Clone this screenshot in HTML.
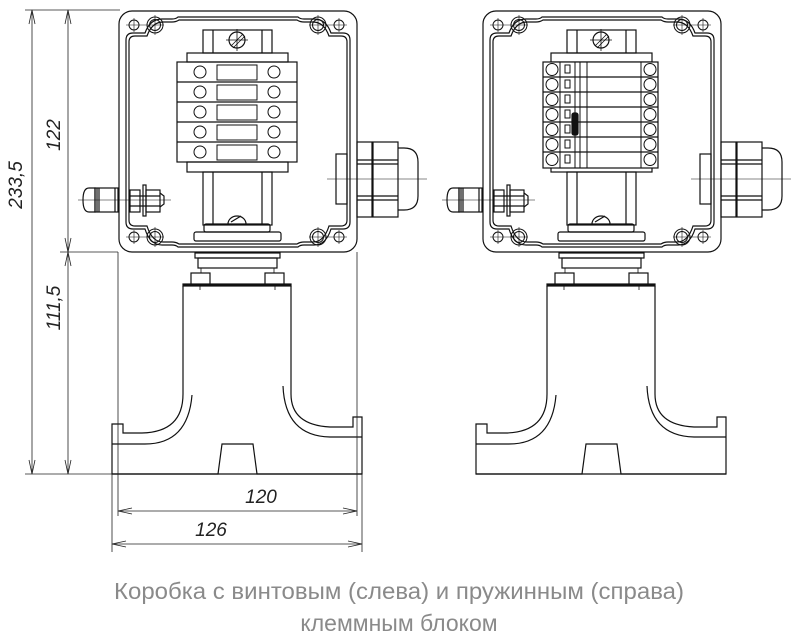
<!DOCTYPE html>
<html><head><meta charset="utf-8"><style>
html,body{margin:0;padding:0;background:#fff;width:795px;height:642px;overflow:hidden}
</style></head><body>
<svg width="795" height="642" viewBox="0 0 795 642" xmlns="http://www.w3.org/2000/svg" font-family="Liberation Sans, sans-serif">
<defs>
<g id="box" fill="none" stroke="#111" stroke-width="1.2">
  <rect x="119" y="11" width="238" height="241" rx="13"/>
  <path d="M126,40 Q126,33 133,33 L145,33 Q150,19 162,19 L172,19 Q176,19 178,17 L298,17 Q300,19 304,19 L314,19 Q326,19 331,33 L343,33 Q350,33 350,40 L350,222 Q350,229 343,229 L331,229 Q326,245 314,245 L304,245 Q300,245 298,247 L178,247 Q176,245 172,245 L162,245 Q150,245 145,229 L133,229 Q126,229 126,222 Z"/>
  <path d="M129,42 Q129,36 135,36 L147,36 Q152,22 163,22 L172,22 Q176,22 179,20 L297,20 Q300,22 304,22 L313,22 Q324,22 329,36 L341,36 Q347,36 347,42 L347,220 Q347,226 341,226 L329,226 Q324,242 313,242 L304,242 Q300,242 297,244 L179,244 Q176,242 172,242 L163,242 Q152,242 147,226 L135,226 Q129,226 129,220 Z"/>
  <g stroke-width="1">
    <circle cx="155" cy="25" r="8"/><circle cx="155" cy="25" r="5.5"/>
    <circle cx="318" cy="25" r="8"/><circle cx="318" cy="25" r="5.5"/>
    <circle cx="155" cy="237" r="8"/><circle cx="155" cy="237" r="5.5"/>
    <circle cx="318" cy="237" r="8"/><circle cx="318" cy="237" r="5.5"/>
    <circle cx="134" cy="25" r="5"/><circle cx="339" cy="25" r="5"/>
    <circle cx="134" cy="237" r="5"/><circle cx="339" cy="237" r="5"/>
    <path d="M126,25h38M155,15v20M309,25h38M318,15v20M339,18v14M134,18v14M126,237h38M155,227v20M309,237h38M318,227v20M339,230v14M134,230v14" stroke-width="0.6"/>
  </g>
  <rect x="203" y="30" width="69" height="23"/>
  <path d="M213,30v23M262,30v23"/>
  <circle cx="237" cy="40" r="8"/><path d="M231,46l12,-12M233,48l12,-12M226,40h22M237,29v22" stroke-width="0.8"/>
  <rect x="187" y="53" width="101" height="9"/>
  <rect x="187" y="162" width="101" height="10"/>
  <rect x="203" y="172" width="69" height="53"/>
  <path d="M213,172v53M262,172v53"/>
  <path d="M228,224a9,8 0 0 1 18,0" /><path d="M231,222l10,-6"/>
  <rect x="204" y="224" width="66" height="8" rx="2"/>
  <rect x="194" y="232" width="87" height="9" rx="2"/>
  <path d="M95,188 L89,188 Q83,188 83,200 Q83,212 89,212 L95,212 Z"/>
  <rect x="95" y="188" width="23" height="24"/><path d="M97,188v24M99,188v24M115,188v24"/>
  <rect x="130" y="190" width="10" height="22"/><rect x="143" y="185" width="3" height="31"/>
  <rect x="146" y="190" width="14" height="22"/><path d="M160,193 l4,3 v8 l-4,3M130,196h30M130,206h30"/>
  <path d="M78,200h93" stroke-width="0.6"/>
  <rect x="336" y="154" width="11" height="50"/>
  <rect x="357" y="142" width="15" height="75"/>
  <rect x="373" y="142" width="25" height="75"/>
  <path d="M398,148 L404,148 Q418,148 418,162 L418,196 Q418,210 404,210 L398,210"/>
  <path d="M357,160h41M357,164h41M357,196h41M357,200h41"/>
  <path d="M327,179h100" stroke-width="0.6"/>
  <rect x="195" y="253" width="85" height="5"/>
  <rect x="198" y="258" width="79" height="10"/>
  <rect x="191" y="273" width="19" height="12"/><rect x="265" y="273" width="19" height="12"/>
  <path d="M201,268v5M274,268v5M200,285v5M275,285v5" stroke-width="0.8"/>
  <rect x="183" y="284" width="108" height="2" fill="#111"/>
  <path d="M183,286 V394 Q183,432 142,433 L123,433 V424 H112 V474 H218 L222,444 H253 L257,474 H362 V417 H353 V427 L330,427 Q291,425 291,394 V286"/>
  <path d="M192,395 Q188,444 145,444 L112,444"/>
  <path d="M283,386 Q285,436 330,437 L362,437"/>
  <path d="M112,474 H362" />
</g>
</defs>
<use href="#box"/>
<use href="#box" transform="translate(364,0)"/>

<g fill="none" stroke="#111" stroke-width="1.2">
  <rect x="177" y="62" width="120" height="100"/>
  <path d="M177,82h120M177,102h120M177,122h120M177,142h120"/>
  <g stroke-width="1">
  <circle cx="200" cy="72" r="6"/><circle cx="274" cy="72" r="6"/><rect x="217" y="65" width="40" height="15"/>
  <circle cx="200" cy="92" r="6"/><circle cx="274" cy="92" r="6"/><rect x="217" y="85" width="40" height="15"/>
  <circle cx="200" cy="112" r="6"/><circle cx="274" cy="112" r="6"/><rect x="217" y="105" width="40" height="15"/>
  <circle cx="200" cy="132" r="6"/><circle cx="274" cy="132" r="6"/><rect x="217" y="125" width="40" height="15"/>
  <circle cx="200" cy="152" r="6"/><circle cx="274" cy="152" r="6"/><rect x="217" y="145" width="40" height="15"/>
  </g>
</g>
<g fill="none" stroke="#111" stroke-width="1.2">
  <rect x="543" y="62" width="115" height="106" fill="#fff"/>
  <path d="M543,77h115M543,92h115M543,107h115M543,122h115M543,137h115M543,152h115"/>
  <path d="M560,62v106M575,62v106M580,62v106M587,62v106M641,62v106" stroke-width="1"/>
  <g stroke-width="1">
  <circle cx="552" cy="69.5" r="6"/><circle cx="650" cy="69.5" r="6"/><rect x="565" y="65" width="5" height="8"/>
  <circle cx="552" cy="84.5" r="6"/><circle cx="650" cy="84.5" r="6"/><rect x="565" y="80" width="5" height="8"/>
  <circle cx="552" cy="99.5" r="6"/><circle cx="650" cy="99.5" r="6"/><rect x="565" y="95" width="5" height="8"/>
  <circle cx="552" cy="114.5" r="6"/><circle cx="650" cy="114.5" r="6"/><rect x="565" y="110" width="5" height="8"/>
  <circle cx="552" cy="129.5" r="6"/><circle cx="650" cy="129.5" r="6"/><rect x="565" y="125" width="5" height="8"/>
  <circle cx="552" cy="144.5" r="6"/><circle cx="650" cy="144.5" r="6"/><rect x="565" y="140" width="5" height="8"/>
  <circle cx="552" cy="159.5" r="6"/><circle cx="650" cy="159.5" r="6"/><rect x="565" y="155" width="5" height="8"/>
  </g>
  <rect x="572" y="113" width="6" height="22" rx="2" fill="#111"/>
</g>

<g fill="none" stroke="#222" stroke-width="0.8">
  <path d="M25,10H120M60,252H118M25,474H112"/>
  <path d="M32,10V474M68,10V474"/>
  <path d="M29,24L32,10L35,24M29,460L32,474L35,460M65,24L68,10L71,24M65,238L68,252L71,238M65,266L68,252L71,266M65,460L68,474L71,460"/>
  <path d="M118,252V516M357,252V516M112,474V552M362,474V552"/>
  <path d="M118,511H357M112,544H362"/>
  <path d="M132,508L118,511L132,514M343,508L357,511L343,514M126,541L112,544L126,547M348,541L362,544L348,547"/>
</g>
<g fill="#222" font-size="19" font-style="italic">
  <text transform="translate(22,185) rotate(-90)" text-anchor="middle">233,5</text>
  <text transform="translate(60,135) rotate(-90)" text-anchor="middle">122</text>
  <text transform="translate(60,308) rotate(-90)" text-anchor="middle">111,5</text>
  <text x="261" y="503" text-anchor="middle">120</text>
  <text x="211" y="536" text-anchor="middle">126</text>
</g>
<g fill="#8a8a8a" font-size="23" text-anchor="middle">
  <text x="399" y="599" textLength="570" lengthAdjust="spacingAndGlyphs">Коробка с винтовым (слева) и пружинным (справа)</text>
  <text x="399" y="631">клеммным блоком</text>
</g>
</svg>
</body></html>
